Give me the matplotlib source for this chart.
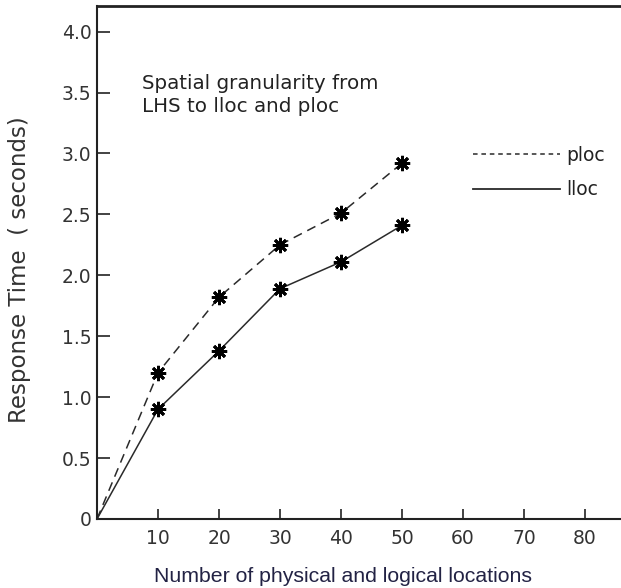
import matplotlib
matplotlib.use("Agg")
import matplotlib.pyplot as plt
from matplotlib.lines import Line2D

# Data
locations = [0, 10, 20, 30, 40, 50]
ploc = [0, 1.20, 1.82, 2.25, 2.51, 2.92]
lloc = [0, 0.90, 1.38, 1.89, 2.11, 2.41]
x_ticks = [10, 20, 30, 40, 50, 60, 70, 80]
y_ticks = [0, 0.5, 1.0, 1.5, 2.0, 2.5, 3.0, 3.5, 4.0]
y_ticklabels = ["0", "0.5", "1.0", "1.5", "2.0", "2.5", "3.0", "3.5", "4.0"]

fig = plt.figure(figsize=(6.21, 5.88), dpi=100)
ax = fig.add_axes([97/621, 69/588, 1 - 97/621, (519-6)/588])

lc = "#2a2a2a"
mk = (8, 2, 0)
ax.plot(locations, ploc, color=lc, lw=1.1, dashes=(6, 4), marker=None)
ax.plot(locations, lloc, color=lc, lw=1.1, marker=None)
ax.plot(locations[1:], ploc[1:], lw=0, color="black", marker=mk, ms=11, mew=2.0)
ax.plot(locations[1:], lloc[1:], lw=0, color="black", marker=mk, ms=11, mew=2.0)

ax.set_xlim(0, 85.9)
ax.set_ylim(0, 4.21)
ax.set_xticks(x_ticks)
ax.set_xticklabels([str(v) for v in x_ticks])
ax.set_yticks(y_ticks)
ax.set_yticklabels(y_ticklabels)

ax.spines["right"].set_visible(False)
ax.spines["top"].set_linewidth(2.0)
ax.spines["left"].set_linewidth(1.5)
ax.spines["bottom"].set_linewidth(1.5)
for s in ["top", "left", "bottom"]:
    ax.spines[s].set_color("#222222")

ax.tick_params(axis="y", direction="in", length=9, width=1.2, pad=4,
               labelsize=13.5, labelcolor="#333333", colors="#222222")
ax.tick_params(axis="x", direction="in", length=7, width=1.2, pad=7,
               labelsize=13.5, labelcolor="#333333", colors="#222222")
for lab in ax.get_xticklabels() + ax.get_yticklabels():
    lab.set_family("DejaVu Sans")

ax.set_ylabel("Response Time  ( seconds)", family="DejaVu Sans", fontsize=16.5,
              color="#333333")
ax.yaxis.set_label_coords(-(97 - 20) / 524, (519 - 270) / 513)
ax.set_xlabel("Number of physical and logical locations", family="Liberation Sans",
              fontsize=15.3, color="#222244")
ax.xaxis.set_label_coords((343 - 97) / 524, -(576 - 519) / 513)
ax.xaxis.label.set_verticalalignment("center")
ax.yaxis.label.set_verticalalignment("center")

ax.text(0.086, 0.868, "Spatial granularity from\nLHS to lloc and ploc",
        transform=ax.transAxes, family="DejaVu Sans", fontsize=14.3,
        color="#222222", va="top", ha="left", linespacing=1.3)

handles = [Line2D([], [], color=lc, lw=1.1, dashes=(3, 2.5)),
           Line2D([], [], color=lc, lw=1.3)]
leg = ax.legend(handles, ["ploc", "lloc"], loc="upper left",
                bbox_to_anchor=(0.717, 0.728), frameon=False,
                handlelength=4.65, handletextpad=0.35, borderpad=0,
                borderaxespad=0, labelspacing=0.85,
                prop=dict(family="DejaVu Sans", size=13.5))
for t in leg.get_texts():
    t.set_color("#222222")

fig.savefig("out.png", dpi=100)
